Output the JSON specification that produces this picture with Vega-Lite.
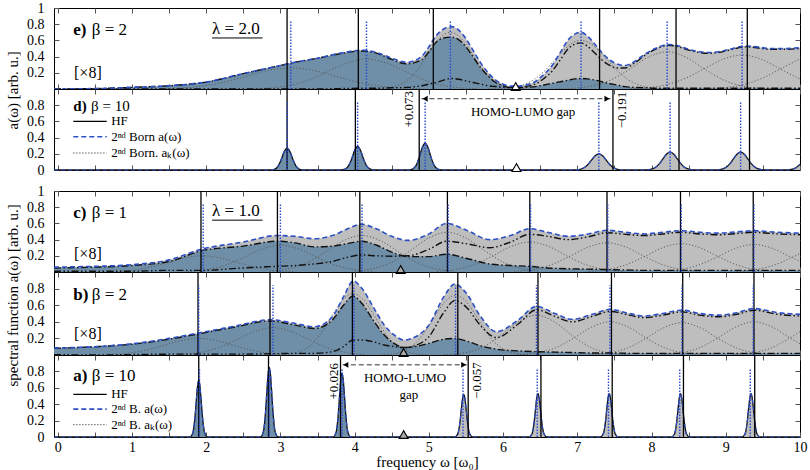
{
"$schema": "https://vega.github.io/schema/vega-lite/v6.json",
"background": "white",
"padding": {"left": 5, "right": 5, "top": 0, "bottom": 0},
"spacing": 5,
"config": {
  "font": "Liberation Serif",
  "view": {"stroke": "#000", "strokeWidth": 1},
  "axis": {"domain": false, "grid": false, "tickSize": -5, "tickColor": "#555", "tickWidth": 1, "labelFont": "Liberation Serif", "labelFontSize": 14, "labelColor": "#000", "titleFont": "Liberation Serif", "titleFontSize": 15, "titleFontWeight": "normal", "titleColor": "#000"},
  "axisX": {"labelPadding": 8},
  "axisY": {"labelPadding": 15, "titlePadding": 6}
},
"datasets": {
"one": [{}],
"ce": [{"x":-0.05,"t":0,"o":0,"u":0},{"x":0.5,"t":0.005,"o":0.005,"u":0},{"x":1,"t":0.02,"o":0.02,"u":0},{"x":1.5,"t":0.04,"o":0.04,"u":0},{"x":2,"t":0.085,"o":0.085,"u":0},{"x":2.5,"t":0.19,"o":0.19,"u":0},{"x":3,"t":0.29,"o":0.29,"u":0},{"x":3.2,"t":0.33,"o":0.33,"u":0},{"x":3.5,"t":0.38,"o":0.38,"u":0},{"x":3.8,"t":0.44,"o":0.435,"u":0.005},{"x":4.1,"t":0.48,"o":0.47,"u":0.01},{"x":4.3,"t":0.45,"o":0.44,"u":0.01},{"x":4.5,"t":0.38,"o":0.365,"u":0.015},{"x":4.7,"t":0.33,"o":0.31,"u":0.02},{"x":4.9,"t":0.4,"o":0.36,"u":0.04},{"x":5.0,"t":0.52,"o":0.46,"u":0.06},{"x":5.1,"t":0.66,"o":0.58,"u":0.08},{"x":5.2,"t":0.74,"o":0.63,"u":0.11},{"x":5.3,"t":0.77,"o":0.64,"u":0.13},{"x":5.4,"t":0.73,"o":0.61,"u":0.12},{"x":5.5,"t":0.62,"o":0.52,"u":0.1},{"x":5.6,"t":0.47,"o":0.39,"u":0.08},{"x":5.7,"t":0.32,"o":0.26,"u":0.06},{"x":5.8,"t":0.2,"o":0.16,"u":0.04},{"x":5.9,"t":0.11,"o":0.08,"u":0.03},{"x":6.0,"t":0.06,"o":0.04,"u":0.02},{"x":6.1,"t":0.035,"o":0.015,"u":0.02},{"x":6.2,"t":0.035,"o":0.015,"u":0.02},{"x":6.3,"t":0.05,"o":0.02,"u":0.03},{"x":6.43,"t":0.09,"o":0.03,"u":0.06},{"x":6.55,"t":0.18,"o":0.05,"u":0.13},{"x":6.66,"t":0.29,"o":0.07,"u":0.22},{"x":6.77,"t":0.45,"o":0.09,"u":0.36},{"x":6.88,"t":0.61,"o":0.11,"u":0.5},{"x":6.97,"t":0.68,"o":0.125,"u":0.555},{"x":7.05,"t":0.7,"o":0.13,"u":0.57},{"x":7.14,"t":0.65,"o":0.125,"u":0.525},{"x":7.24,"t":0.55,"o":0.11,"u":0.44},{"x":7.33,"t":0.45,"o":0.09,"u":0.36},{"x":7.42,"t":0.37,"o":0.07,"u":0.3},{"x":7.53,"t":0.31,"o":0.05,"u":0.26},{"x":7.64,"t":0.29,"o":0.03,"u":0.26},{"x":7.77,"t":0.34,"o":0.02,"u":0.32},{"x":7.91,"t":0.43,"o":0.015,"u":0.415},{"x":8.05,"t":0.5,"o":0.01,"u":0.49},{"x":8.23,"t":0.55,"o":0.01,"u":0.54},{"x":8.37,"t":0.53,"o":0.01,"u":0.52},{"x":8.5,"t":0.49,"o":0.01,"u":0.48},{"x":8.65,"t":0.46,"o":0.01,"u":0.45},{"x":8.77,"t":0.45,"o":0.01,"u":0.44},{"x":8.9,"t":0.46,"o":0.01,"u":0.45},{"x":9.05,"t":0.49,"o":0.01,"u":0.48},{"x":9.26,"t":0.53,"o":0.01,"u":0.52},{"x":9.42,"t":0.52,"o":0.01,"u":0.51},{"x":9.58,"t":0.5,"o":0.01,"u":0.49},{"x":9.8,"t":0.5,"o":0.01,"u":0.49},{"x":10,"t":0.51,"o":0.01,"u":0.5}],
"cd": [{"x":-0.05,"t":0,"o":0,"u":0},
{"x":2.87,"t":0,"o":0,"u":0},{"x":2.92,"t":0.009,"o":0.009,"u":0},{"x":2.97,"t":0.049,"o":0.049,"u":0},{"x":3.01,"t":0.127,"o":0.127,"u":0},{"x":3.05,"t":0.224,"o":0.224,"u":0},{"x":3.09,"t":0.27,"o":0.27,"u":0},{"x":3.13,"t":0.224,"o":0.224,"u":0},{"x":3.17,"t":0.127,"o":0.127,"u":0},{"x":3.21,"t":0.049,"o":0.049,"u":0},{"x":3.26,"t":0.009,"o":0.009,"u":0},{"x":3.31,"t":0,"o":0,"u":0},
{"x":3.82,"t":0,"o":0,"u":0},{"x":3.87,"t":0.01,"o":0.01,"u":0},{"x":3.92,"t":0.053,"o":0.053,"u":0},{"x":3.96,"t":0.136,"o":0.136,"u":0},{"x":4.0,"t":0.241,"o":0.241,"u":0},{"x":4.04,"t":0.29,"o":0.29,"u":0},{"x":4.08,"t":0.241,"o":0.241,"u":0},{"x":4.12,"t":0.136,"o":0.136,"u":0},{"x":4.16,"t":0.053,"o":0.053,"u":0},{"x":4.21,"t":0.01,"o":0.01,"u":0},{"x":4.26,"t":0,"o":0,"u":0},
{"x":4.73,"t":0,"o":0,"u":0},{"x":4.78,"t":0.011,"o":0.011,"u":0},{"x":4.83,"t":0.06,"o":0.06,"u":0},{"x":4.87,"t":0.155,"o":0.155,"u":0},{"x":4.91,"t":0.274,"o":0.274,"u":0},{"x":4.95,"t":0.33,"o":0.33,"u":0},{"x":4.99,"t":0.274,"o":0.274,"u":0},{"x":5.03,"t":0.155,"o":0.155,"u":0},{"x":5.07,"t":0.06,"o":0.06,"u":0},{"x":5.12,"t":0.011,"o":0.011,"u":0},{"x":5.17,"t":0,"o":0,"u":0},
{"x":6.97,"t":0,"o":0,"u":0},{"x":7.04,"t":0.009,"o":0,"u":0.009},{"x":7.09,"t":0.027,"o":0,"u":0.027},{"x":7.14,"t":0.065,"o":0,"u":0.065},{"x":7.19,"t":0.121,"o":0,"u":0.121},{"x":7.24,"t":0.176,"o":0,"u":0.176},{"x":7.29,"t":0.2,"o":0,"u":0.2},{"x":7.34,"t":0.176,"o":0,"u":0.176},{"x":7.39,"t":0.121,"o":0,"u":0.121},{"x":7.44,"t":0.065,"o":0,"u":0.065},{"x":7.49,"t":0.027,"o":0,"u":0.027},{"x":7.54,"t":0.009,"o":0,"u":0.009},{"x":7.61,"t":0,"o":0,"u":0},
{"x":7.93,"t":0,"o":0,"u":0},{"x":8.0,"t":0.01,"o":0,"u":0.01},{"x":8.05,"t":0.03,"o":0,"u":0.03},{"x":8.1,"t":0.072,"o":0,"u":0.072},{"x":8.15,"t":0.134,"o":0,"u":0.134},{"x":8.2,"t":0.194,"o":0,"u":0.194},{"x":8.25,"t":0.22,"o":0,"u":0.22},{"x":8.3,"t":0.194,"o":0,"u":0.194},{"x":8.35,"t":0.134,"o":0,"u":0.134},{"x":8.4,"t":0.072,"o":0,"u":0.072},{"x":8.45,"t":0.03,"o":0,"u":0.03},{"x":8.5,"t":0.01,"o":0,"u":0.01},{"x":8.57,"t":0,"o":0,"u":0},
{"x":8.88,"t":0,"o":0,"u":0},{"x":8.95,"t":0.01,"o":0,"u":0.01},{"x":9.0,"t":0.03,"o":0,"u":0.03},{"x":9.05,"t":0.072,"o":0,"u":0.072},{"x":9.1,"t":0.134,"o":0,"u":0.134},{"x":9.15,"t":0.194,"o":0,"u":0.194},{"x":9.2,"t":0.22,"o":0,"u":0.22},{"x":9.25,"t":0.194,"o":0,"u":0.194},{"x":9.3,"t":0.134,"o":0,"u":0.134},{"x":9.35,"t":0.072,"o":0,"u":0.072},{"x":9.4,"t":0.03,"o":0,"u":0.03},{"x":9.45,"t":0.01,"o":0,"u":0.01},{"x":9.52,"t":0,"o":0,"u":0},
{"x":9.83,"t":0,"o":0,"u":0},{"x":9.9,"t":0.01,"o":0,"u":0.01},{"x":9.95,"t":0.03,"o":0,"u":0.03},{"x":10,"t":0.072,"o":0,"u":0.072}],
"cc": [{"x":-0.05,"t":0.06,"o":0.05,"u":0.01},{"x":0.5,"t":0.07,"o":0.06,"u":0.01},{"x":1,"t":0.09,"o":0.08,"u":0.01},{"x":1.5,"t":0.15,"o":0.13,"u":0.02},{"x":1.93,"t":0.28,"o":0.26,"u":0.02},{"x":2.5,"t":0.37,"o":0.32,"u":0.05},{"x":2.96,"t":0.45,"o":0.38,"u":0.07},{"x":3.2,"t":0.44,"o":0.36,"u":0.08},{"x":3.46,"t":0.41,"o":0.31,"u":0.1},{"x":3.7,"t":0.45,"o":0.32,"u":0.13},{"x":3.9,"t":0.53,"o":0.35,"u":0.18},{"x":4.09,"t":0.59,"o":0.38,"u":0.21},{"x":4.3,"t":0.53,"o":0.33,"u":0.2},{"x":4.5,"t":0.44,"o":0.245,"u":0.195},{"x":4.72,"t":0.39,"o":0.19,"u":0.2},{"x":5.0,"t":0.47,"o":0.19,"u":0.28},{"x":5.24,"t":0.6,"o":0.22,"u":0.38},{"x":5.5,"t":0.52,"o":0.17,"u":0.35},{"x":5.82,"t":0.4,"o":0.1,"u":0.3},{"x":6.1,"t":0.45,"o":0.08,"u":0.37},{"x":6.36,"t":0.535,"o":0.07,"u":0.465},{"x":6.6,"t":0.49,"o":0.05,"u":0.44},{"x":6.88,"t":0.44,"o":0.04,"u":0.4},{"x":7.15,"t":0.47,"o":0.035,"u":0.435},{"x":7.4,"t":0.515,"o":0.03,"u":0.485},{"x":7.65,"t":0.49,"o":0.025,"u":0.465},{"x":7.9,"t":0.47,"o":0.02,"u":0.45},{"x":8.15,"t":0.49,"o":0.02,"u":0.47},{"x":8.39,"t":0.51,"o":0.02,"u":0.49},{"x":8.65,"t":0.49,"o":0.02,"u":0.47},{"x":8.9,"t":0.48,"o":0.02,"u":0.46},{"x":9.15,"t":0.495,"o":0.02,"u":0.475},{"x":9.37,"t":0.51,"o":0.02,"u":0.49},{"x":9.7,"t":0.49,"o":0.02,"u":0.47},{"x":10,"t":0.48,"o":0.02,"u":0.46}],
"cb": [{"x":-0.05,"t":0.085,"o":0.08,"u":0.005},{"x":0.5,"t":0.1,"o":0.1,"u":0},{"x":1,"t":0.135,"o":0.13,"u":0.005},{"x":1.5,"t":0.2,"o":0.19,"u":0.01},{"x":1.93,"t":0.27,"o":0.26,"u":0.01},{"x":2.4,"t":0.35,"o":0.34,"u":0.01},{"x":2.86,"t":0.425,"o":0.41,"u":0.015},{"x":3.2,"t":0.38,"o":0.36,"u":0.02},{"x":3.46,"t":0.34,"o":0.32,"u":0.02},{"x":3.7,"t":0.46,"o":0.42,"u":0.04},{"x":3.85,"t":0.7,"o":0.6,"u":0.1},{"x":3.98,"t":0.89,"o":0.71,"u":0.18},{"x":4.1,"t":0.8,"o":0.62,"u":0.18},{"x":4.25,"t":0.58,"o":0.42,"u":0.16},{"x":4.4,"t":0.36,"o":0.24,"u":0.12},{"x":4.55,"t":0.23,"o":0.13,"u":0.1},{"x":4.66,"t":0.18,"o":0.09,"u":0.09},{"x":4.8,"t":0.21,"o":0.1,"u":0.11},{"x":5.0,"t":0.36,"o":0.14,"u":0.22},{"x":5.2,"t":0.7,"o":0.19,"u":0.51},{"x":5.35,"t":0.855,"o":0.2,"u":0.655},{"x":5.5,"t":0.75,"o":0.17,"u":0.58},{"x":5.7,"t":0.46,"o":0.11,"u":0.35},{"x":5.91,"t":0.28,"o":0.07,"u":0.21},{"x":6.2,"t":0.42,"o":0.05,"u":0.37},{"x":6.45,"t":0.585,"o":0.04,"u":0.545},{"x":6.7,"t":0.5,"o":0.035,"u":0.465},{"x":6.93,"t":0.43,"o":0.03,"u":0.4},{"x":7.2,"t":0.49,"o":0.025,"u":0.465},{"x":7.44,"t":0.55,"o":0.025,"u":0.525},{"x":7.7,"t":0.5,"o":0.02,"u":0.48},{"x":7.9,"t":0.47,"o":0.02,"u":0.45},{"x":8.15,"t":0.5,"o":0.02,"u":0.48},{"x":8.41,"t":0.54,"o":0.02,"u":0.52},{"x":8.65,"t":0.5,"o":0.02,"u":0.48},{"x":8.9,"t":0.48,"o":0.02,"u":0.46},{"x":9.15,"t":0.51,"o":0.02,"u":0.49},{"x":9.38,"t":0.56,"o":0.02,"u":0.54},{"x":9.7,"t":0.51,"o":0.02,"u":0.49},{"x":10,"t":0.49,"o":0.02,"u":0.47}],
"ca": [{"x":-0.05,"t":0,"o":0,"u":0},
{"x":1.78,"t":0,"o":0,"u":0},{"x":1.82,"t":0.05,"o":0.05,"u":0},{"x":1.85,"t":0.248,"o":0.248,"u":0},{"x":1.87,"t":0.478,"o":0.478,"u":0},{"x":1.885,"t":0.629,"o":0.629,"u":0},{"x":1.9,"t":0.69,"o":0.69,"u":0},{"x":1.915,"t":0.629,"o":0.629,"u":0},{"x":1.93,"t":0.478,"o":0.478,"u":0},{"x":1.95,"t":0.248,"o":0.248,"u":0},{"x":1.98,"t":0.05,"o":0.05,"u":0},{"x":2.02,"t":0,"o":0,"u":0},
{"x":2.73,"t":0,"o":0,"u":0},{"x":2.77,"t":0.062,"o":0.062,"u":0},{"x":2.8,"t":0.306,"o":0.306,"u":0},{"x":2.82,"t":0.589,"o":0.589,"u":0},{"x":2.835,"t":0.775,"o":0.775,"u":0},{"x":2.85,"t":0.85,"o":0.85,"u":0},{"x":2.865,"t":0.775,"o":0.775,"u":0},{"x":2.88,"t":0.589,"o":0.589,"u":0},{"x":2.9,"t":0.306,"o":0.306,"u":0},{"x":2.93,"t":0.062,"o":0.062,"u":0},{"x":2.97,"t":0,"o":0,"u":0},
{"x":3.71,"t":0,"o":0,"u":0},{"x":3.75,"t":0.057,"o":0.057,"u":0},{"x":3.78,"t":0.281,"o":0.281,"u":0},{"x":3.8,"t":0.541,"o":0.541,"u":0},{"x":3.815,"t":0.711,"o":0.711,"u":0},{"x":3.83,"t":0.78,"o":0.78,"u":0},{"x":3.845,"t":0.711,"o":0.711,"u":0},{"x":3.86,"t":0.541,"o":0.541,"u":0},{"x":3.88,"t":0.281,"o":0.281,"u":0},{"x":3.91,"t":0.057,"o":0.057,"u":0},{"x":3.95,"t":0,"o":0,"u":0},
{"x":5.35,"t":0,"o":0,"u":0},{"x":5.39,"t":0.038,"o":0,"u":0.038},{"x":5.42,"t":0.187,"o":0,"u":0.187},{"x":5.44,"t":0.36,"o":0,"u":0.36},{"x":5.455,"t":0.474,"o":0,"u":0.474},{"x":5.47,"t":0.52,"o":0,"u":0.52},{"x":5.485,"t":0.474,"o":0,"u":0.474},{"x":5.5,"t":0.36,"o":0,"u":0.36},{"x":5.52,"t":0.187,"o":0,"u":0.187},{"x":5.55,"t":0.038,"o":0,"u":0.038},{"x":5.59,"t":0,"o":0,"u":0},
{"x":6.35,"t":0,"o":0,"u":0},{"x":6.39,"t":0.039,"o":0,"u":0.039},{"x":6.42,"t":0.191,"o":0,"u":0.191},{"x":6.44,"t":0.367,"o":0,"u":0.367},{"x":6.455,"t":0.483,"o":0,"u":0.483},{"x":6.47,"t":0.53,"o":0,"u":0.53},{"x":6.485,"t":0.483,"o":0,"u":0.483},{"x":6.5,"t":0.367,"o":0,"u":0.367},{"x":6.52,"t":0.191,"o":0,"u":0.191},{"x":6.55,"t":0.039,"o":0,"u":0.039},{"x":6.59,"t":0,"o":0,"u":0},
{"x":7.31,"t":0,"o":0,"u":0},{"x":7.35,"t":0.039,"o":0,"u":0.039},{"x":7.38,"t":0.191,"o":0,"u":0.191},{"x":7.4,"t":0.367,"o":0,"u":0.367},{"x":7.415,"t":0.483,"o":0,"u":0.483},{"x":7.43,"t":0.53,"o":0,"u":0.53},{"x":7.445,"t":0.483,"o":0,"u":0.483},{"x":7.46,"t":0.367,"o":0,"u":0.367},{"x":7.48,"t":0.191,"o":0,"u":0.191},{"x":7.51,"t":0.039,"o":0,"u":0.039},{"x":7.55,"t":0,"o":0,"u":0},
{"x":8.27,"t":0,"o":0,"u":0},{"x":8.31,"t":0.039,"o":0,"u":0.039},{"x":8.34,"t":0.191,"o":0,"u":0.191},{"x":8.36,"t":0.367,"o":0,"u":0.367},{"x":8.375,"t":0.483,"o":0,"u":0.483},{"x":8.39,"t":0.53,"o":0,"u":0.53},{"x":8.405,"t":0.483,"o":0,"u":0.483},{"x":8.42,"t":0.367,"o":0,"u":0.367},{"x":8.44,"t":0.191,"o":0,"u":0.191},{"x":8.47,"t":0.039,"o":0,"u":0.039},{"x":8.51,"t":0,"o":0,"u":0},
{"x":9.22,"t":0,"o":0,"u":0},{"x":9.26,"t":0.039,"o":0,"u":0.039},{"x":9.29,"t":0.191,"o":0,"u":0.191},{"x":9.31,"t":0.367,"o":0,"u":0.367},{"x":9.325,"t":0.483,"o":0,"u":0.483},{"x":9.34,"t":0.53,"o":0,"u":0.53},{"x":9.355,"t":0.483,"o":0,"u":0.483},{"x":9.37,"t":0.367,"o":0,"u":0.367},{"x":9.39,"t":0.191,"o":0,"u":0.191},{"x":9.42,"t":0.039,"o":0,"u":0.039},{"x":9.46,"t":0,"o":0,"u":0},
{"x":10,"t":0,"o":0,"u":0}],
"ake": [{"k":1,"x":1.39,"y":0.004},{"k":1,"x":1.64,"y":0.011},{"k":1,"x":1.89,"y":0.03},{"k":1,"x":2.14,"y":0.065},{"k":1,"x":2.39,"y":0.119},{"k":1,"x":2.64,"y":0.184},{"k":1,"x":2.89,"y":0.238},{"k":1,"x":3.14,"y":0.26},{"k":1,"x":3.39,"y":0.238},{"k":1,"x":3.64,"y":0.184},{"k":1,"x":3.89,"y":0.119},{"k":1,"x":4.14,"y":0.065},{"k":1,"x":4.39,"y":0.03},{"k":1,"x":4.64,"y":0.011},{"k":1,"x":4.89,"y":0.004},
{"k":2,"x":2.66,"y":0.004},{"k":2,"x":2.91,"y":0.016},{"k":2,"x":3.16,"y":0.05},{"k":2,"x":3.41,"y":0.12},{"k":2,"x":3.66,"y":0.225},{"k":2,"x":3.91,"y":0.326},{"k":2,"x":4.16,"y":0.37},{"k":2,"x":4.41,"y":0.326},{"k":2,"x":4.66,"y":0.225},{"k":2,"x":4.91,"y":0.12},{"k":2,"x":5.16,"y":0.05},{"k":2,"x":5.41,"y":0.016},{"k":2,"x":5.66,"y":0.004},
{"k":3,"x":4.29,"y":0.003},{"k":3,"x":4.415,"y":0.01},{"k":3,"x":4.54,"y":0.031},{"k":3,"x":4.665,"y":0.08},{"k":3,"x":4.79,"y":0.174},{"k":3,"x":4.915,"y":0.321},{"k":3,"x":5.04,"y":0.495},{"k":3,"x":5.165,"y":0.642},{"k":3,"x":5.29,"y":0.7},{"k":3,"x":5.415,"y":0.642},{"k":3,"x":5.54,"y":0.495},{"k":3,"x":5.665,"y":0.321},{"k":3,"x":5.79,"y":0.174},{"k":3,"x":5.915,"y":0.08},{"k":3,"x":6.04,"y":0.031},{"k":3,"x":6.165,"y":0.01},{"k":3,"x":6.29,"y":0.003},
{"k":4,"x":5.8,"y":0.001},{"k":4,"x":6.05,"y":0.01},{"k":4,"x":6.175,"y":0.026},{"k":4,"x":6.3,"y":0.06},{"k":4,"x":6.425,"y":0.122},{"k":4,"x":6.55,"y":0.216},{"k":4,"x":6.675,"y":0.338},{"k":4,"x":6.8,"y":0.465},{"k":4,"x":6.925,"y":0.563},{"k":4,"x":7.05,"y":0.6},{"k":4,"x":7.175,"y":0.563},{"k":4,"x":7.3,"y":0.465},{"k":4,"x":7.425,"y":0.338},{"k":4,"x":7.55,"y":0.216},{"k":4,"x":7.675,"y":0.122},{"k":4,"x":7.8,"y":0.06},{"k":4,"x":7.925,"y":0.026},{"k":4,"x":8.05,"y":0.01},{"k":4,"x":8.3,"y":0.001},
{"k":5,"x":6.71,"y":0.002},{"k":5,"x":6.96,"y":0.01},{"k":5,"x":7.21,"y":0.039},{"k":5,"x":7.46,"y":0.115},{"k":5,"x":7.71,"y":0.248},{"k":5,"x":7.96,"y":0.394},{"k":5,"x":8.21,"y":0.46},{"k":5,"x":8.46,"y":0.394},{"k":5,"x":8.71,"y":0.248},{"k":5,"x":8.96,"y":0.115},{"k":5,"x":9.21,"y":0.039},{"k":5,"x":9.46,"y":0.01},{"k":5,"x":9.71,"y":0.002},
{"k":6,"x":7.72,"y":0.005},{"k":6,"x":7.97,"y":0.018},{"k":6,"x":8.22,"y":0.057},{"k":6,"x":8.47,"y":0.137},{"k":6,"x":8.72,"y":0.255},{"k":6,"x":8.97,"y":0.37},{"k":6,"x":9.22,"y":0.42},{"k":6,"x":9.47,"y":0.37},{"k":6,"x":9.72,"y":0.255},{"k":6,"x":9.97,"y":0.137},{"k":6,"x":10,"y":0.125},
{"k":7,"x":8.75,"y":0.005},{"k":7,"x":9.0,"y":0.018},{"k":7,"x":9.25,"y":0.057},{"k":7,"x":9.5,"y":0.137},{"k":7,"x":9.75,"y":0.255},{"k":7,"x":10,"y":0.37}],
"akc": [{"k":1,"x":0.7,"y":0.004},{"k":1,"x":0.95,"y":0.017},{"k":1,"x":1.2,"y":0.05},{"k":1,"x":1.45,"y":0.108},{"k":1,"x":1.7,"y":0.171},{"k":1,"x":1.95,"y":0.2},{"k":1,"x":2.2,"y":0.171},{"k":1,"x":2.45,"y":0.108},{"k":1,"x":2.7,"y":0.05},{"k":1,"x":2.95,"y":0.017},{"k":1,"x":3.2,"y":0.004},
{"k":2,"x":1.75,"y":0.007},{"k":2,"x":2.0,"y":0.028},{"k":2,"x":2.25,"y":0.082},{"k":2,"x":2.5,"y":0.178},{"k":2,"x":2.75,"y":0.283},{"k":2,"x":3.0,"y":0.33},{"k":2,"x":3.25,"y":0.283},{"k":2,"x":3.5,"y":0.178},{"k":2,"x":3.75,"y":0.082},{"k":2,"x":4.0,"y":0.028},{"k":2,"x":4.25,"y":0.007},
{"k":3,"x":2.85,"y":0.009},{"k":3,"x":3.1,"y":0.038},{"k":3,"x":3.35,"y":0.112},{"k":3,"x":3.6,"y":0.243},{"k":3,"x":3.85,"y":0.386},{"k":3,"x":4.1,"y":0.45},{"k":3,"x":4.35,"y":0.386},{"k":3,"x":4.6,"y":0.243},{"k":3,"x":4.85,"y":0.112},{"k":3,"x":5.1,"y":0.038},{"k":3,"x":5.35,"y":0.009},
{"k":4,"x":4.0,"y":0.01},{"k":4,"x":4.25,"y":0.042},{"k":4,"x":4.5,"y":0.122},{"k":4,"x":4.75,"y":0.264},{"k":4,"x":5.0,"y":0.42},{"k":4,"x":5.25,"y":0.49},{"k":4,"x":5.5,"y":0.42},{"k":4,"x":5.75,"y":0.264},{"k":4,"x":6.0,"y":0.122},{"k":4,"x":6.25,"y":0.042},{"k":4,"x":6.5,"y":0.01},
{"k":5,"x":5.11,"y":0.008},{"k":5,"x":5.36,"y":0.031},{"k":5,"x":5.61,"y":0.092},{"k":5,"x":5.86,"y":0.199},{"k":5,"x":6.11,"y":0.317},{"k":5,"x":6.36,"y":0.37},{"k":5,"x":6.61,"y":0.317},{"k":5,"x":6.86,"y":0.199},{"k":5,"x":7.11,"y":0.092},{"k":5,"x":7.36,"y":0.031},{"k":5,"x":7.61,"y":0.008},
{"k":6,"x":6.15,"y":0.008},{"k":6,"x":6.4,"y":0.031},{"k":6,"x":6.65,"y":0.09},{"k":6,"x":6.9,"y":0.194},{"k":6,"x":7.15,"y":0.309},{"k":6,"x":7.4,"y":0.36},{"k":6,"x":7.65,"y":0.309},{"k":6,"x":7.9,"y":0.194},{"k":6,"x":8.15,"y":0.09},{"k":6,"x":8.4,"y":0.031},{"k":6,"x":8.65,"y":0.008},
{"k":7,"x":7.15,"y":0.007},{"k":7,"x":7.4,"y":0.03},{"k":7,"x":7.65,"y":0.087},{"k":7,"x":7.9,"y":0.189},{"k":7,"x":8.15,"y":0.3},{"k":7,"x":8.4,"y":0.35},{"k":7,"x":8.65,"y":0.3},{"k":7,"x":8.9,"y":0.189},{"k":7,"x":9.15,"y":0.087},{"k":7,"x":9.4,"y":0.03},{"k":7,"x":9.65,"y":0.007},
{"k":8,"x":8.13,"y":0.007},{"k":8,"x":8.38,"y":0.029},{"k":8,"x":8.63,"y":0.085},{"k":8,"x":8.88,"y":0.183},{"k":8,"x":9.13,"y":0.291},{"k":8,"x":9.38,"y":0.34},{"k":8,"x":9.63,"y":0.291},{"k":8,"x":9.88,"y":0.183},{"k":8,"x":10,"y":0.132},
{"k":9,"x":9.15,"y":0.007},{"k":9,"x":9.4,"y":0.029},{"k":9,"x":9.65,"y":0.085},{"k":9,"x":9.9,"y":0.183},{"k":9,"x":10,"y":0.229}],
"akb": [{"k":1,"x":0.65,"y":0.004},{"k":1,"x":0.9,"y":0.017},{"k":1,"x":1.15,"y":0.05},{"k":1,"x":1.4,"y":0.108},{"k":1,"x":1.65,"y":0.171},{"k":1,"x":1.9,"y":0.2},{"k":1,"x":2.15,"y":0.171},{"k":1,"x":2.4,"y":0.108},{"k":1,"x":2.65,"y":0.05},{"k":1,"x":2.9,"y":0.017},{"k":1,"x":3.15,"y":0.004},
{"k":2,"x":1.65,"y":0.007},{"k":2,"x":1.9,"y":0.028},{"k":2,"x":2.15,"y":0.082},{"k":2,"x":2.4,"y":0.178},{"k":2,"x":2.65,"y":0.283},{"k":2,"x":2.9,"y":0.33},{"k":2,"x":3.15,"y":0.283},{"k":2,"x":3.4,"y":0.178},{"k":2,"x":3.65,"y":0.082},{"k":2,"x":3.9,"y":0.028},{"k":2,"x":4.15,"y":0.007},
{"k":3,"x":2.98,"y":0.003},{"k":3,"x":3.105,"y":0.01},{"k":3,"x":3.23,"y":0.033},{"k":3,"x":3.355,"y":0.084},{"k":3,"x":3.48,"y":0.184},{"k":3,"x":3.605,"y":0.339},{"k":3,"x":3.73,"y":0.523},{"k":3,"x":3.855,"y":0.679},{"k":3,"x":3.98,"y":0.74},{"k":3,"x":4.105,"y":0.679},{"k":3,"x":4.23,"y":0.523},{"k":3,"x":4.355,"y":0.339},{"k":3,"x":4.48,"y":0.184},{"k":3,"x":4.605,"y":0.084},{"k":3,"x":4.73,"y":0.033},{"k":3,"x":4.855,"y":0.01},{"k":3,"x":4.98,"y":0.003},
{"k":4,"x":4.36,"y":0.003},{"k":4,"x":4.485,"y":0.01},{"k":4,"x":4.61,"y":0.032},{"k":4,"x":4.735,"y":0.082},{"k":4,"x":4.86,"y":0.179},{"k":4,"x":4.985,"y":0.33},{"k":4,"x":5.11,"y":0.509},{"k":4,"x":5.235,"y":0.66},{"k":4,"x":5.36,"y":0.72},{"k":4,"x":5.485,"y":0.66},{"k":4,"x":5.61,"y":0.509},{"k":4,"x":5.735,"y":0.33},{"k":4,"x":5.86,"y":0.179},{"k":4,"x":5.985,"y":0.082},{"k":4,"x":6.11,"y":0.032},{"k":4,"x":6.235,"y":0.01},{"k":4,"x":6.36,"y":0.003},
{"k":5,"x":5.2,"y":0.004},{"k":5,"x":5.45,"y":0.021},{"k":5,"x":5.7,"y":0.083},{"k":5,"x":5.95,"y":0.22},{"k":5,"x":6.2,"y":0.395},{"k":5,"x":6.45,"y":0.48},{"k":5,"x":6.7,"y":0.395},{"k":5,"x":6.95,"y":0.22},{"k":5,"x":7.2,"y":0.083},{"k":5,"x":7.45,"y":0.021},{"k":5,"x":7.7,"y":0.004},
{"k":6,"x":6.19,"y":0.005},{"k":6,"x":6.44,"y":0.024},{"k":6,"x":6.69,"y":0.081},{"k":6,"x":6.94,"y":0.197},{"k":6,"x":7.19,"y":0.335},{"k":6,"x":7.44,"y":0.4},{"k":6,"x":7.69,"y":0.335},{"k":6,"x":7.94,"y":0.197},{"k":6,"x":8.19,"y":0.081},{"k":6,"x":8.44,"y":0.024},{"k":6,"x":8.69,"y":0.005},
{"k":7,"x":7.16,"y":0.005},{"k":7,"x":7.41,"y":0.023},{"k":7,"x":7.66,"y":0.079},{"k":7,"x":7.91,"y":0.192},{"k":7,"x":8.16,"y":0.327},{"k":7,"x":8.41,"y":0.39},{"k":7,"x":8.66,"y":0.327},{"k":7,"x":8.91,"y":0.192},{"k":7,"x":9.16,"y":0.079},{"k":7,"x":9.41,"y":0.023},{"k":7,"x":9.66,"y":0.005},
{"k":8,"x":8.13,"y":0.005},{"k":8,"x":8.38,"y":0.024},{"k":8,"x":8.63,"y":0.081},{"k":8,"x":8.88,"y":0.197},{"k":8,"x":9.13,"y":0.335},{"k":8,"x":9.38,"y":0.4},{"k":8,"x":9.63,"y":0.335},{"k":8,"x":9.88,"y":0.197},{"k":8,"x":10,"y":0.135},
{"k":9,"x":9.1,"y":0.005},{"k":9,"x":9.35,"y":0.024},{"k":9,"x":9.6,"y":0.081},{"k":9,"x":9.85,"y":0.197},{"k":9,"x":10,"y":0.283}],
"vl": [{"p":"e","k":"h","x":3.09},{"p":"e","k":"h","x":4.05},{"p":"e","k":"h","x":5.06},{"p":"e","k":"h","x":7.3},{"p":"e","k":"h","x":8.33},{"p":"e","k":"h","x":9.29},
{"p":"e","k":"b","x":3.14},{"p":"e","k":"b","x":4.16},{"p":"e","k":"b","x":5.29},{"p":"e","k":"b","x":7.05},{"p":"e","k":"b","x":8.21},{"p":"e","k":"b","x":9.22},
{"p":"d","k":"h","x":3.09},{"p":"d","k":"h","x":4.01},{"p":"d","k":"h","x":4.87},{"p":"d","k":"h","x":7.48},{"p":"d","k":"h","x":8.37},{"p":"d","k":"h","x":9.32},
{"p":"d","k":"b","x":3.09},{"p":"d","k":"b","x":4.04},{"p":"d","k":"b","x":4.95},{"p":"d","k":"b","x":7.29},{"p":"d","k":"b","x":8.25},{"p":"d","k":"b","x":9.2},
{"p":"c","k":"h","x":1.93},{"p":"c","k":"h","x":2.96},{"p":"c","k":"h","x":4.07},{"p":"c","k":"h","x":5.25},{"p":"c","k":"h","x":6.36},{"p":"c","k":"h","x":7.4},{"p":"c","k":"h","x":8.39},{"p":"c","k":"h","x":9.37},
{"p":"c","k":"b","x":1.96},{"p":"c","k":"b","x":3.0},{"p":"c","k":"b","x":4.1},{"p":"c","k":"b","x":5.26},{"p":"c","k":"b","x":6.37},{"p":"c","k":"b","x":7.41},{"p":"c","k":"b","x":8.4},{"p":"c","k":"b","x":9.38},
{"p":"b","k":"h","x":1.89},{"p":"b","k":"h","x":2.86},{"p":"b","k":"h","x":3.97},{"p":"b","k":"h","x":5.39},{"p":"b","k":"h","x":6.47},{"p":"b","k":"h","x":7.46},{"p":"b","k":"h","x":8.42},{"p":"b","k":"h","x":9.38},
{"p":"b","k":"b","x":1.9},{"p":"b","k":"b","x":2.9},{"p":"b","k":"b","x":3.99},{"p":"b","k":"b","x":5.36},{"p":"b","k":"b","x":6.45},{"p":"b","k":"b","x":7.44},{"p":"b","k":"b","x":8.41},{"p":"b","k":"b","x":9.37},
{"p":"a","k":"h","x":1.9},{"p":"a","k":"h","x":2.84},{"p":"a","k":"h","x":3.81},{"p":"a","k":"h","x":5.53},{"p":"a","k":"h","x":6.51},{"p":"a","k":"h","x":7.47},{"p":"a","k":"h","x":8.43},{"p":"a","k":"h","x":9.39},
{"p":"a","k":"b","x":1.91},{"p":"a","k":"b","x":2.85},{"p":"a","k":"b","x":3.83},{"p":"a","k":"b","x":5.46},{"p":"a","k":"b","x":6.46},{"p":"a","k":"b","x":7.42},{"p":"a","k":"b","x":8.38},{"p":"a","k":"b","x":9.33}],
"mu": [{"p":"e","x":6.17},{"p":"d","x":6.18},{"p":"c","x":4.62},{"p":"b","x":4.66},{"p":"a","x":4.66}]
},
"vconcat": [
{"spacing": 0, "bounds": "flush", "vconcat": [
{"width": 746, "height": 81,
 "resolve": {"axis": {"x": "independent", "y": "independent"}},
 "layer": [
  {"data": {"name": "ce"}, "mark": {"type": "area", "color": "#bebebe", "interpolate": "monotone"},
   "encoding": {"x": {"field": "x", "type": "quantitative", "scale": {"domain": [-0.05, 10], "nice": false, "zero": false}, "axis": {"orient": "bottom", "values": [0,0.5,1,1.5,2,2.5,3,3.5,4,4.5,5,5.5,6,6.5,7,7.5,8,8.5,9,9.5,10], "labels": false, "title": null}},
                "y": {"field": "t", "type": "quantitative", "scale": {"domain": [0, 1], "nice": false}, "axis": {"values": [0.2,0.4,0.6,0.8,1], "format": "~g", "title": "a(ω) [arb. u.]", "titleAnchor": "start", "titleAlign": "left", "titleY": 121}}}},
  {"data": {"name": "ce"}, "mark": {"type": "area", "color": "#6f8fa8", "interpolate": "monotone"}, "encoding": {"x": {"field": "x", "type": "quantitative", "axis": null}, "y": {"field": "o", "type": "quantitative", "axis": null}}},
  {"data": {"name": "ake"}, "mark": {"type": "line", "stroke": "#555", "strokeWidth": 0.9, "strokeDash": [1.2, 2], "interpolate": "monotone"}, "encoding": {"x": {"field": "x", "type": "quantitative", "axis": null}, "y": {"field": "y", "type": "quantitative", "axis": null}, "detail": {"field": "k"}}},
  {"data": {"name": "ce"}, "mark": {"type": "line", "stroke": "#111", "strokeWidth": 1.4, "strokeDash": [7, 2.5, 1.5, 2.5, 1.5, 2.5], "interpolate": "monotone"}, "encoding": {"x": {"field": "x", "type": "quantitative", "axis": null}, "y": {"field": "u", "type": "quantitative", "axis": null}}},
  {"data": {"name": "ce"}, "mark": {"type": "line", "stroke": "#111", "strokeWidth": 1.4, "strokeDash": [7, 2.5, 1.5, 2.5], "interpolate": "monotone"}, "encoding": {"x": {"field": "x", "type": "quantitative", "axis": null}, "y": {"field": "o", "type": "quantitative", "axis": null}}},
  {"data": {"name": "ce"}, "mark": {"type": "line", "stroke": "#2c4fc4", "strokeWidth": 1.6, "strokeDash": [5, 3], "interpolate": "monotone"},
   "encoding": {"x": {"field": "x", "type": "quantitative", "axis": {"orient": "top", "values": [0,0.5,1,1.5,2,2.5,3,3.5,4,4.5,5,5.5,6,6.5,7,7.5,8,8.5,9,9.5,10], "labels": false, "title": null}},
                "y": {"field": "t", "type": "quantitative", "axis": {"orient": "right", "values": [0.2,0.4,0.6,0.8], "labels": false, "title": null}}}},
  {"data": {"name": "vl"}, "transform": [{"filter": "datum.p=='e' && datum.k=='h'"}], "mark": {"type": "rule", "stroke": "#000", "strokeWidth": 1.3}, "encoding": {"x": {"field": "x", "type": "quantitative", "axis": null}}},
  {"data": {"name": "vl"}, "transform": [{"filter": "datum.p=='e' && datum.k=='b'"}], "mark": {"type": "rule", "stroke": "#2a4ad0", "strokeWidth": 1.4, "strokeDash": [1.5, 1.5]}, "encoding": {"x": {"field": "x", "type": "quantitative", "axis": null}, "y": {"datum": 0, "axis": null}, "y2": {"datum": 0.84}}},
  {"data": {"name": "mu"}, "transform": [{"filter": "datum.p=='e'"}], "mark": {"type": "point", "shape": "triangle-up", "filled": true, "fill": "#ffffff", "stroke": "#000", "strokeWidth": 1.1, "size": 80, "opacity": 1}, "encoding": {"x": {"field": "x", "type": "quantitative", "axis": null}, "y": {"datum": 0.03, "axis": null}}},
  {"data": {"name": "one"}, "mark": {"type": "text", "text": "e)", "fontWeight": "bold", "fontSize": 17, "align": "left", "baseline": "middle"}, "encoding": {"x": {"datum": 0.21, "axis": null}, "y": {"datum": 0.73, "axis": null}}},
  {"data": {"name": "one"}, "mark": {"type": "text", "text": "β = 2", "fontSize": 17, "align": "left", "baseline": "middle"}, "encoding": {"x": {"datum": 0.46, "axis": null}, "y": {"datum": 0.73, "axis": null}}},
  {"data": {"name": "one"}, "mark": {"type": "text", "text": "λ = 2.0", "fontSize": 17, "align": "left", "baseline": "middle"}, "encoding": {"x": {"datum": 2.08, "axis": null}, "y": {"datum": 0.74, "axis": null}}},
  {"data": {"name": "one"}, "mark": {"type": "rule", "stroke": "#000", "strokeWidth": 1}, "encoding": {"x": {"datum": 2.08, "axis": null}, "x2": {"datum": 2.76}, "y": {"datum": 0.63, "axis": null}}},
  {"data": {"name": "one"}, "mark": {"type": "text", "text": "[×8]", "fontSize": 16, "align": "left", "baseline": "middle"}, "encoding": {"x": {"datum": 0.22, "axis": null}, "y": {"datum": 0.2, "axis": null}}}
 ]},
{"width": 746, "height": 81,
 "resolve": {"axis": {"x": "independent", "y": "independent"}},
 "layer": [
  {"data": {"name": "cd"}, "mark": {"type": "area", "color": "#bebebe", "interpolate": "monotone"},
   "encoding": {"x": {"field": "x", "type": "quantitative", "scale": {"domain": [-0.05, 10], "nice": false, "zero": false}, "axis": {"orient": "bottom", "values": [0,0.5,1,1.5,2,2.5,3,3.5,4,4.5,5,5.5,6,6.5,7,7.5,8,8.5,9,9.5,10], "labels": false, "title": null}},
                "y": {"field": "t", "type": "quantitative", "scale": {"domain": [0, 1], "nice": false}, "axis": {"values": [0,0.2,0.4,0.6,0.8], "format": "~g", "title": null}}}},
  {"data": {"name": "cd"}, "mark": {"type": "area", "color": "#6f8fa8", "interpolate": "monotone"}, "encoding": {"x": {"field": "x", "type": "quantitative", "axis": null}, "y": {"field": "o", "type": "quantitative", "axis": null}}},
  {"data": {"name": "cd"}, "mark": {"type": "line", "stroke": "#111", "strokeWidth": 1.3, "interpolate": "monotone"}, "encoding": {"x": {"field": "x", "type": "quantitative", "axis": null}, "y": {"field": "t", "type": "quantitative", "axis": null}}},
  {"data": {"name": "cd"}, "mark": {"type": "line", "stroke": "#2c4fc4", "strokeWidth": 1.2, "strokeDash": [4, 3], "interpolate": "monotone"},
   "encoding": {"x": {"field": "x", "type": "quantitative", "axis": {"orient": "top", "values": [0,0.5,1,1.5,2,2.5,3,3.5,4,4.5,5,5.5,6,6.5,7,7.5,8,8.5,9,9.5,10], "labels": false, "title": null}},
                "y": {"field": "t", "type": "quantitative", "axis": {"orient": "right", "values": [0.2,0.4,0.6,0.8], "labels": false, "title": null}}}},
  {"data": {"name": "vl"}, "transform": [{"filter": "datum.p=='d' && datum.k=='h'"}], "mark": {"type": "rule", "stroke": "#000", "strokeWidth": 1.3}, "encoding": {"x": {"field": "x", "type": "quantitative", "axis": null}}},
  {"data": {"name": "vl"}, "transform": [{"filter": "datum.p=='d' && datum.k=='b'"}], "mark": {"type": "rule", "stroke": "#2a4ad0", "strokeWidth": 1.4, "strokeDash": [1.5, 1.5]}, "encoding": {"x": {"field": "x", "type": "quantitative", "axis": null}, "y": {"datum": 0, "axis": null}, "y2": {"datum": 0.84}}},
  {"data": {"name": "mu"}, "transform": [{"filter": "datum.p=='d'"}], "mark": {"type": "point", "shape": "triangle-up", "filled": true, "fill": "#ffffff", "stroke": "#000", "strokeWidth": 1.1, "size": 80, "opacity": 1}, "encoding": {"x": {"field": "x", "type": "quantitative", "axis": null}, "y": {"datum": 0.03, "axis": null}}},
  {"data": {"name": "one"}, "mark": {"type": "text", "text": "d)", "fontWeight": "bold", "fontSize": 15, "align": "left", "baseline": "middle"}, "encoding": {"x": {"datum": 0.21, "axis": null}, "y": {"datum": 0.79, "axis": null}}},
  {"data": {"name": "one"}, "mark": {"type": "text", "text": "β = 10", "fontSize": 15, "align": "left", "baseline": "middle"}, "encoding": {"x": {"datum": 0.45, "axis": null}, "y": {"datum": 0.79, "axis": null}}},
  {"data": {"name": "one"}, "mark": {"type": "rule", "stroke": "#000", "strokeWidth": 1.3}, "encoding": {"x": {"datum": 0.21, "axis": null}, "x2": {"datum": 0.66}, "y": {"datum": 0.6, "axis": null}}},
  {"data": {"name": "one"}, "mark": {"type": "rule", "stroke": "#2c4fc4", "strokeWidth": 1.6, "strokeDash": [5, 3]}, "encoding": {"x": {"datum": 0.21, "axis": null}, "x2": {"datum": 0.66}, "y": {"datum": 0.41, "axis": null}}},
  {"data": {"name": "one"}, "mark": {"type": "rule", "stroke": "#333", "strokeWidth": 1, "strokeDash": [1.2, 1.8]}, "encoding": {"x": {"datum": 0.21, "axis": null}, "x2": {"datum": 0.66}, "y": {"datum": 0.21, "axis": null}}},
  {"data": {"name": "one"}, "mark": {"type": "text", "text": "HF", "fontSize": 13, "align": "left", "baseline": "middle"}, "encoding": {"x": {"datum": 0.72, "axis": null}, "y": {"datum": 0.6, "axis": null}}},
  {"data": {"name": "one"}, "mark": {"type": "text", "text": "2ⁿᵈ Born a(ω)", "fontSize": 13, "align": "left", "baseline": "middle"}, "encoding": {"x": {"datum": 0.72, "axis": null}, "y": {"datum": 0.41, "axis": null}}},
  {"data": {"name": "one"}, "mark": {"type": "text", "text": "2ⁿᵈ Born. aₖ(ω)", "fontSize": 13, "align": "left", "baseline": "middle"}, "encoding": {"x": {"datum": 0.72, "axis": null}, "y": {"datum": 0.21, "axis": null}}},
  {"data": {"name": "one"}, "mark": {"type": "rule", "stroke": "#333", "strokeWidth": 1, "strokeDash": [5, 3]}, "encoding": {"x": {"datum": 4.9, "axis": null}, "x2": {"datum": 7.45}, "y": {"datum": 0.88, "axis": null}}},
  {"data": {"name": "one"}, "mark": {"type": "point", "shape": "triangle-left", "filled": true, "color": "#000", "size": 35, "opacity": 1}, "encoding": {"x": {"datum": 4.95, "axis": null}, "y": {"datum": 0.88, "axis": null}}},
  {"data": {"name": "one"}, "mark": {"type": "point", "shape": "triangle-right", "filled": true, "color": "#000", "size": 35, "opacity": 1}, "encoding": {"x": {"datum": 7.4, "axis": null}, "y": {"datum": 0.88, "axis": null}}},
  {"data": {"name": "one"}, "mark": {"type": "text", "text": "HOMO-LUMO gap", "fontSize": 13, "align": "center", "baseline": "middle"}, "encoding": {"x": {"datum": 6.27, "axis": null}, "y": {"datum": 0.72, "axis": null}}},
  {"data": {"name": "one"}, "mark": {"type": "text", "text": "+0.073", "fontSize": 13, "angle": 270, "align": "center", "baseline": "middle"}, "encoding": {"x": {"datum": 4.73, "axis": null}, "y": {"datum": 0.75, "axis": null}}},
  {"data": {"name": "one"}, "mark": {"type": "text", "text": "−0.191", "fontSize": 13, "angle": 270, "align": "center", "baseline": "middle"}, "encoding": {"x": {"datum": 7.6, "axis": null}, "y": {"datum": 0.74, "axis": null}}}
 ]}
]},
{"spacing": 0, "bounds": "flush", "vconcat": [
{"width": 746, "height": 81,
 "resolve": {"axis": {"x": "independent", "y": "independent"}},
 "layer": [
  {"data": {"name": "cc"}, "mark": {"type": "area", "color": "#bebebe", "interpolate": "monotone"},
   "encoding": {"x": {"field": "x", "type": "quantitative", "scale": {"domain": [-0.05, 10], "nice": false, "zero": false}, "axis": {"orient": "bottom", "values": [0,0.5,1,1.5,2,2.5,3,3.5,4,4.5,5,5.5,6,6.5,7,7.5,8,8.5,9,9.5,10], "labels": false, "title": null}},
                "y": {"field": "t", "type": "quantitative", "scale": {"domain": [0, 1], "nice": false}, "axis": {"values": [0.2,0.4,0.6,0.8,1], "format": "~g", "title": null}}}},
  {"data": {"name": "cc"}, "mark": {"type": "area", "color": "#6f8fa8", "interpolate": "monotone"}, "encoding": {"x": {"field": "x", "type": "quantitative", "axis": null}, "y": {"field": "o", "type": "quantitative", "axis": null}}},
  {"data": {"name": "akc"}, "mark": {"type": "line", "stroke": "#555", "strokeWidth": 0.9, "strokeDash": [1.2, 2], "interpolate": "monotone"}, "encoding": {"x": {"field": "x", "type": "quantitative", "axis": null}, "y": {"field": "y", "type": "quantitative", "axis": null}, "detail": {"field": "k"}}},
  {"data": {"name": "cc"}, "mark": {"type": "line", "stroke": "#111", "strokeWidth": 1.4, "strokeDash": [7, 2.5, 1.5, 2.5, 1.5, 2.5], "interpolate": "monotone"}, "encoding": {"x": {"field": "x", "type": "quantitative", "axis": null}, "y": {"field": "u", "type": "quantitative", "axis": null}}},
  {"data": {"name": "cc"}, "mark": {"type": "line", "stroke": "#111", "strokeWidth": 1.4, "strokeDash": [7, 2.5, 1.5, 2.5], "interpolate": "monotone"}, "encoding": {"x": {"field": "x", "type": "quantitative", "axis": null}, "y": {"field": "o", "type": "quantitative", "axis": null}}},
  {"data": {"name": "cc"}, "mark": {"type": "line", "stroke": "#2c4fc4", "strokeWidth": 1.6, "strokeDash": [5, 3], "interpolate": "monotone"},
   "encoding": {"x": {"field": "x", "type": "quantitative", "axis": {"orient": "top", "values": [0,0.5,1,1.5,2,2.5,3,3.5,4,4.5,5,5.5,6,6.5,7,7.5,8,8.5,9,9.5,10], "labels": false, "title": null}},
                "y": {"field": "t", "type": "quantitative", "axis": {"orient": "right", "values": [0.2,0.4,0.6,0.8], "labels": false, "title": null}}}},
  {"data": {"name": "vl"}, "transform": [{"filter": "datum.p=='c' && datum.k=='h'"}], "mark": {"type": "rule", "stroke": "#000", "strokeWidth": 1.3}, "encoding": {"x": {"field": "x", "type": "quantitative", "axis": null}}},
  {"data": {"name": "vl"}, "transform": [{"filter": "datum.p=='c' && datum.k=='b'"}], "mark": {"type": "rule", "stroke": "#2a4ad0", "strokeWidth": 1.4, "strokeDash": [1.5, 1.5]}, "encoding": {"x": {"field": "x", "type": "quantitative", "axis": null}, "y": {"datum": 0, "axis": null}, "y2": {"datum": 0.84}}},
  {"data": {"name": "mu"}, "transform": [{"filter": "datum.p=='c'"}], "mark": {"type": "point", "shape": "triangle-up", "filled": true, "fill": "#aaaaaa", "stroke": "#000", "strokeWidth": 1.1, "size": 80, "opacity": 1}, "encoding": {"x": {"field": "x", "type": "quantitative", "axis": null}, "y": {"datum": 0.03, "axis": null}}},
  {"data": {"name": "one"}, "mark": {"type": "text", "text": "c)", "fontWeight": "bold", "fontSize": 17, "align": "left", "baseline": "middle"}, "encoding": {"x": {"datum": 0.21, "axis": null}, "y": {"datum": 0.73, "axis": null}}},
  {"data": {"name": "one"}, "mark": {"type": "text", "text": "β = 1", "fontSize": 17, "align": "left", "baseline": "middle"}, "encoding": {"x": {"datum": 0.46, "axis": null}, "y": {"datum": 0.73, "axis": null}}},
  {"data": {"name": "one"}, "mark": {"type": "text", "text": "λ = 1.0", "fontSize": 17, "align": "left", "baseline": "middle"}, "encoding": {"x": {"datum": 2.08, "axis": null}, "y": {"datum": 0.75, "axis": null}}},
  {"data": {"name": "one"}, "mark": {"type": "rule", "stroke": "#000", "strokeWidth": 1}, "encoding": {"x": {"datum": 2.08, "axis": null}, "x2": {"datum": 2.76}, "y": {"datum": 0.64, "axis": null}}},
  {"data": {"name": "one"}, "mark": {"type": "text", "text": "[×8]", "fontSize": 16, "align": "left", "baseline": "middle"}, "encoding": {"x": {"datum": 0.22, "axis": null}, "y": {"datum": 0.22, "axis": null}}}
 ]},
{"width": 746, "height": 83,
 "resolve": {"axis": {"x": "independent", "y": "independent"}},
 "layer": [
  {"data": {"name": "cb"}, "mark": {"type": "area", "color": "#bebebe", "interpolate": "monotone"},
   "encoding": {"x": {"field": "x", "type": "quantitative", "scale": {"domain": [-0.05, 10], "nice": false, "zero": false}, "axis": {"orient": "bottom", "values": [0,0.5,1,1.5,2,2.5,3,3.5,4,4.5,5,5.5,6,6.5,7,7.5,8,8.5,9,9.5,10], "labels": false, "title": null}},
                "y": {"field": "t", "type": "quantitative", "scale": {"domain": [0, 1], "nice": false}, "axis": {"values": [0.2,0.4,0.6,0.8], "format": "~g", "title": "spectral function a(ω) [arb. u.]", "titleAnchor": "start", "titleAlign": "left", "titleY": 114}}}},
  {"data": {"name": "cb"}, "mark": {"type": "area", "color": "#6f8fa8", "interpolate": "monotone"}, "encoding": {"x": {"field": "x", "type": "quantitative", "axis": null}, "y": {"field": "o", "type": "quantitative", "axis": null}}},
  {"data": {"name": "akb"}, "mark": {"type": "line", "stroke": "#555", "strokeWidth": 0.9, "strokeDash": [1.2, 2], "interpolate": "monotone"}, "encoding": {"x": {"field": "x", "type": "quantitative", "axis": null}, "y": {"field": "y", "type": "quantitative", "axis": null}, "detail": {"field": "k"}}},
  {"data": {"name": "cb"}, "mark": {"type": "line", "stroke": "#111", "strokeWidth": 1.4, "strokeDash": [7, 2.5, 1.5, 2.5, 1.5, 2.5], "interpolate": "monotone"}, "encoding": {"x": {"field": "x", "type": "quantitative", "axis": null}, "y": {"field": "u", "type": "quantitative", "axis": null}}},
  {"data": {"name": "cb"}, "mark": {"type": "line", "stroke": "#111", "strokeWidth": 1.4, "strokeDash": [7, 2.5, 1.5, 2.5], "interpolate": "monotone"}, "encoding": {"x": {"field": "x", "type": "quantitative", "axis": null}, "y": {"field": "o", "type": "quantitative", "axis": null}}},
  {"data": {"name": "cb"}, "mark": {"type": "line", "stroke": "#2c4fc4", "strokeWidth": 1.6, "strokeDash": [5, 3], "interpolate": "monotone"},
   "encoding": {"x": {"field": "x", "type": "quantitative", "axis": {"orient": "top", "values": [0,0.5,1,1.5,2,2.5,3,3.5,4,4.5,5,5.5,6,6.5,7,7.5,8,8.5,9,9.5,10], "labels": false, "title": null}},
                "y": {"field": "t", "type": "quantitative", "axis": {"orient": "right", "values": [0.2,0.4,0.6,0.8], "labels": false, "title": null}}}},
  {"data": {"name": "vl"}, "transform": [{"filter": "datum.p=='b' && datum.k=='h'"}], "mark": {"type": "rule", "stroke": "#000", "strokeWidth": 1.3}, "encoding": {"x": {"field": "x", "type": "quantitative", "axis": null}}},
  {"data": {"name": "vl"}, "transform": [{"filter": "datum.p=='b' && datum.k=='b'"}], "mark": {"type": "rule", "stroke": "#2a4ad0", "strokeWidth": 1.4, "strokeDash": [1.5, 1.5]}, "encoding": {"x": {"field": "x", "type": "quantitative", "axis": null}, "y": {"datum": 0, "axis": null}, "y2": {"datum": 0.84}}},
  {"data": {"name": "mu"}, "transform": [{"filter": "datum.p=='b'"}], "mark": {"type": "point", "shape": "triangle-up", "filled": true, "fill": "#aaaaaa", "stroke": "#000", "strokeWidth": 1.1, "size": 80, "opacity": 1}, "encoding": {"x": {"field": "x", "type": "quantitative", "axis": null}, "y": {"datum": 0.03, "axis": null}}},
  {"data": {"name": "one"}, "mark": {"type": "text", "text": "b)", "fontWeight": "bold", "fontSize": 17, "align": "left", "baseline": "middle"}, "encoding": {"x": {"datum": 0.21, "axis": null}, "y": {"datum": 0.72, "axis": null}}},
  {"data": {"name": "one"}, "mark": {"type": "text", "text": "β = 2", "fontSize": 17, "align": "left", "baseline": "middle"}, "encoding": {"x": {"datum": 0.46, "axis": null}, "y": {"datum": 0.72, "axis": null}}},
  {"data": {"name": "one"}, "mark": {"type": "text", "text": "[×8]", "fontSize": 16, "align": "left", "baseline": "middle"}, "encoding": {"x": {"datum": 0.22, "axis": null}, "y": {"datum": 0.25, "axis": null}}}
 ]},
{"width": 746, "height": 82,
 "resolve": {"axis": {"x": "independent", "y": "independent"}},
 "layer": [
  {"data": {"name": "ca"}, "mark": {"type": "area", "color": "#bebebe", "interpolate": "monotone"},
   "encoding": {"x": {"field": "x", "type": "quantitative", "scale": {"domain": [-0.05, 10], "nice": false, "zero": false}, "axis": {"orient": "bottom", "values": [0,0.5,1,1.5,2,2.5,3,3.5,4,4.5,5,5.5,6,6.5,7,7.5,8,8.5,9,9.5,10], "labelExpr": "datum.value % 1 === 0 ? format(datum.value, 'd') : ''", "labelFlush": false, "title": "frequency ω [ω₀]", "titlePadding": 0}},
                "y": {"field": "t", "type": "quantitative", "scale": {"domain": [0, 1], "nice": false}, "axis": {"values": [0,0.2,0.4,0.6,0.8], "format": "~g", "title": null}}}},
  {"data": {"name": "ca"}, "mark": {"type": "area", "color": "#6f8fa8", "interpolate": "monotone"}, "encoding": {"x": {"field": "x", "type": "quantitative", "axis": null}, "y": {"field": "o", "type": "quantitative", "axis": null}}},
  {"data": {"name": "ca"}, "mark": {"type": "line", "stroke": "#111", "strokeWidth": 1.3, "interpolate": "monotone"}, "encoding": {"x": {"field": "x", "type": "quantitative", "axis": null}, "y": {"field": "t", "type": "quantitative", "axis": null}}},
  {"data": {"name": "ca"}, "mark": {"type": "line", "stroke": "#2c4fc4", "strokeWidth": 1.2, "strokeDash": [4, 3], "interpolate": "monotone"},
   "encoding": {"x": {"field": "x", "type": "quantitative", "axis": {"orient": "top", "values": [0,0.5,1,1.5,2,2.5,3,3.5,4,4.5,5,5.5,6,6.5,7,7.5,8,8.5,9,9.5,10], "labels": false, "title": null}},
                "y": {"field": "t", "type": "quantitative", "axis": {"orient": "right", "values": [0.2,0.4,0.6,0.8], "labels": false, "title": null}}}},
  {"data": {"name": "vl"}, "transform": [{"filter": "datum.p=='a' && datum.k=='h'"}], "mark": {"type": "rule", "stroke": "#000", "strokeWidth": 1.3}, "encoding": {"x": {"field": "x", "type": "quantitative", "axis": null}}},
  {"data": {"name": "vl"}, "transform": [{"filter": "datum.p=='a' && datum.k=='b'"}], "mark": {"type": "rule", "stroke": "#2a4ad0", "strokeWidth": 1.4, "strokeDash": [1.5, 1.5]}, "encoding": {"x": {"field": "x", "type": "quantitative", "axis": null}, "y": {"datum": 0, "axis": null}, "y2": {"datum": 0.84}}},
  {"data": {"name": "mu"}, "transform": [{"filter": "datum.p=='a'"}], "mark": {"type": "point", "shape": "triangle-up", "filled": true, "fill": "#aaaaaa", "stroke": "#000", "strokeWidth": 1.1, "size": 80, "opacity": 1}, "encoding": {"x": {"field": "x", "type": "quantitative", "axis": null}, "y": {"datum": 0.03, "axis": null}}},
  {"data": {"name": "one"}, "mark": {"type": "text", "text": "a)", "fontWeight": "bold", "fontSize": 17, "align": "left", "baseline": "middle"}, "encoding": {"x": {"datum": 0.21, "axis": null}, "y": {"datum": 0.75, "axis": null}}},
  {"data": {"name": "one"}, "mark": {"type": "text", "text": "β = 10", "fontSize": 17, "align": "left", "baseline": "middle"}, "encoding": {"x": {"datum": 0.46, "axis": null}, "y": {"datum": 0.75, "axis": null}}},
  {"data": {"name": "one"}, "mark": {"type": "rule", "stroke": "#000", "strokeWidth": 1.3}, "encoding": {"x": {"datum": 0.21, "axis": null}, "x2": {"datum": 0.66}, "y": {"datum": 0.52, "axis": null}}},
  {"data": {"name": "one"}, "mark": {"type": "rule", "stroke": "#2c4fc4", "strokeWidth": 1.6, "strokeDash": [5, 3]}, "encoding": {"x": {"datum": 0.21, "axis": null}, "x2": {"datum": 0.66}, "y": {"datum": 0.34, "axis": null}}},
  {"data": {"name": "one"}, "mark": {"type": "rule", "stroke": "#333", "strokeWidth": 1, "strokeDash": [1.2, 1.8]}, "encoding": {"x": {"datum": 0.21, "axis": null}, "x2": {"datum": 0.66}, "y": {"datum": 0.15, "axis": null}}},
  {"data": {"name": "one"}, "mark": {"type": "text", "text": "HF", "fontSize": 13, "align": "left", "baseline": "middle"}, "encoding": {"x": {"datum": 0.72, "axis": null}, "y": {"datum": 0.52, "axis": null}}},
  {"data": {"name": "one"}, "mark": {"type": "text", "text": "2ⁿᵈ B. a(ω)", "fontSize": 13, "align": "left", "baseline": "middle"}, "encoding": {"x": {"datum": 0.72, "axis": null}, "y": {"datum": 0.34, "axis": null}}},
  {"data": {"name": "one"}, "mark": {"type": "text", "text": "2ⁿᵈ B. aₖ(ω)", "fontSize": 13, "align": "left", "baseline": "middle"}, "encoding": {"x": {"datum": 0.72, "axis": null}, "y": {"datum": 0.15, "axis": null}}},
  {"data": {"name": "one"}, "mark": {"type": "rule", "stroke": "#333", "strokeWidth": 1, "strokeDash": [5, 3]}, "encoding": {"x": {"datum": 3.84, "axis": null}, "x2": {"datum": 5.51}, "y": {"datum": 0.88, "axis": null}}},
  {"data": {"name": "one"}, "mark": {"type": "point", "shape": "triangle-left", "filled": true, "color": "#000", "size": 35, "opacity": 1}, "encoding": {"x": {"datum": 3.88, "axis": null}, "y": {"datum": 0.88, "axis": null}}},
  {"data": {"name": "one"}, "mark": {"type": "point", "shape": "triangle-right", "filled": true, "color": "#000", "size": 35, "opacity": 1}, "encoding": {"x": {"datum": 5.47, "axis": null}, "y": {"datum": 0.88, "axis": null}}},
  {"data": {"name": "one"}, "mark": {"type": "text", "text": "HOMO-LUMO", "fontSize": 13, "align": "center", "baseline": "middle"}, "encoding": {"x": {"datum": 4.68, "axis": null}, "y": {"datum": 0.72, "axis": null}}},
  {"data": {"name": "one"}, "mark": {"type": "text", "text": "gap", "fontSize": 13, "align": "center", "baseline": "middle"}, "encoding": {"x": {"datum": 4.73, "axis": null}, "y": {"datum": 0.51, "axis": null}}},
  {"data": {"name": "one"}, "mark": {"type": "text", "text": "+0.026", "fontSize": 13, "angle": 270, "align": "center", "baseline": "middle"}, "encoding": {"x": {"datum": 3.72, "axis": null}, "y": {"datum": 0.68, "axis": null}}},
  {"data": {"name": "one"}, "mark": {"type": "text", "text": "−0.057", "fontSize": 13, "angle": 270, "align": "center", "baseline": "middle"}, "encoding": {"x": {"datum": 5.65, "axis": null}, "y": {"datum": 0.69, "axis": null}}}
 ]}
]}
]
}
